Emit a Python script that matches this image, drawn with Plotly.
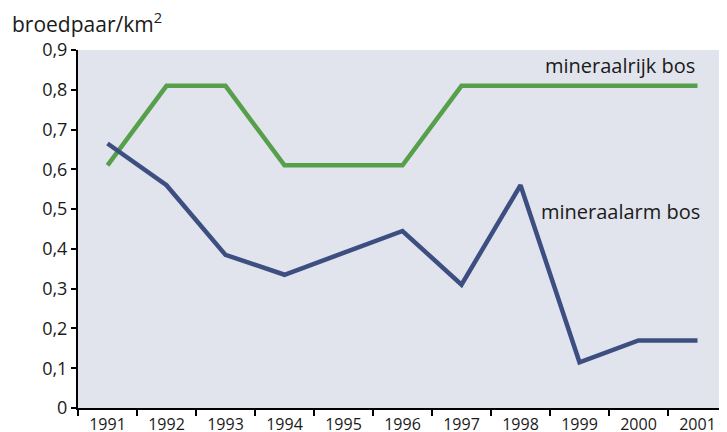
import plotly.graph_objects as go

years = [1991, 1992, 1993, 1994, 1995, 1996, 1997, 1998, 1999, 2000, 2001]
year_labels = ["1991", "1992", "1993", "1994", "1995", "1996", "1997", "1998", "1999", "2000", "2001"]
mineraalrijk = [0.61, 0.81, 0.81, 0.61, 0.61, 0.61, 0.81, 0.81, 0.81, 0.81, 0.81]
mineraalarm = [0.665, 0.56, 0.385, 0.335, 0.39, 0.445, 0.31, 0.56, 0.115, 0.17, 0.17]
y_tickvals = [0, 0.1, 0.2, 0.3, 0.4, 0.5, 0.6, 0.7, 0.8, 0.9]
y_ticktext = ["0", "0,1", "0,2", "0,3", "0,4", "0,5", "0,6", "0,7", "0,8", "0,9"]

FONT = "Open Sans"
GREEN = "#57a04b"
BLUE = "#3d4f80"

# category boundaries (between the years)
boundaries = [y - 0.5 for y in years] + [years[-1] + 0.5]

fig = go.Figure()
fig.add_trace(go.Scatter(x=years, y=mineraalrijk, mode="lines",
                         line=dict(color=GREEN, width=4.5), name="mineraalrijk bos"))
fig.add_trace(go.Scatter(x=years, y=mineraalarm, mode="lines",
                         line=dict(color=BLUE, width=4.5), name="mineraalarm bos"))

# page body has an 8px margin, so the figure is offset by 8px
fig.update_layout(
    width=719, height=432,
    margin=dict(l=70, r=0, t=42, b=32, autoexpand=False),
    paper_bgcolor="white",
    plot_bgcolor="#e1e4ec",
    showlegend=False,
    font=dict(family=FONT, size=17, color="#1a1a1a"),
    separators=",.",
)
fig.update_xaxes(
    range=[boundaries[0], boundaries[-1]],
    tickmode="array", tickvals=years, ticktext=year_labels,
    showgrid=False, zeroline=False, automargin=False,
    showline=True, linecolor="black", linewidth=2,
    ticks="outside", ticklen=1, tickwidth=1, tickcolor="rgba(0,0,0,0)",
    tickfont=dict(size=16),
    minor=dict(tickmode="array", tickvals=boundaries, ticks="outside",
               ticklen=6, tickwidth=2, tickcolor="black", showgrid=False),
)
fig.update_yaxes(
    range=[0, 0.9], tickvals=y_tickvals, ticktext=y_ticktext,
    showgrid=False, zeroline=False, automargin=False,
    showline=True, linecolor="black", linewidth=2,
    ticks="outside", ticklen=5, tickwidth=2, tickcolor="black",
    tickfont=dict(size=18),
)
fig.add_annotation(text="broedpaar/km<sup>2</sup>", xref="paper", yref="paper",
                   x=-0.105, y=1.078, xanchor="left", yanchor="middle",
                   showarrow=False, font=dict(size=21))
fig.add_annotation(text="mineraalrijk bos", xref="paper", yref="y",
                   x=0.954, y=0.862, xanchor="right", yanchor="middle",
                   showarrow=False, font=dict(size=20))
fig.add_annotation(text="mineraalarm bos", xref="paper", yref="y",
                   x=0.71, y=0.495, xanchor="left", yanchor="middle",
                   showarrow=False, font=dict(size=20))

fig.write_html("out.html")
